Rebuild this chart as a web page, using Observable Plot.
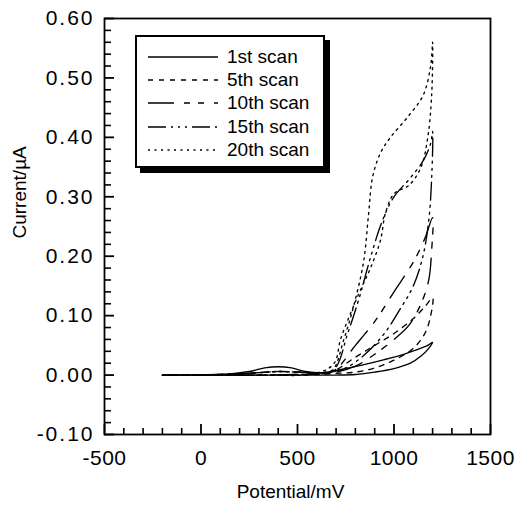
<!DOCTYPE html>
<html><head><meta charset="utf-8">
<script src="https://cdn.jsdelivr.net/npm/d3@7"></script>
<script src="https://cdn.jsdelivr.net/npm/@observablehq/plot@0.6"></script>
<style>
body{margin:0;background:#fff;}
#wrap{position:relative;width:522px;height:513px;font-family:"Liberation Sans",Arial,Helvetica,sans-serif;}
#legend{position:absolute;left:135px;top:35px;width:186px;height:129px;border:2px solid #000;box-shadow:5px 5px 0 #000;background:#fff;}
.row{position:absolute;left:11px;height:20px;display:flex;align-items:center;}
.row span{margin-left:9px;font-size:19px;color:#000;white-space:nowrap;}
svg g[aria-label="y-axis tick label"] text{letter-spacing:2px;}
svg g[aria-label="x-axis tick label"] text{letter-spacing:0.5px;}
</style>
</head><body>
<div id="wrap"></div>
<script>
// ---- data ----
const scanNames = ["1st scan","5th scan","10th scan","15th scan","20th scan"];
const xLabel = "Potential/mV";
const yLabel = "Current/µA";
const xMajor = [-500,0,500,1000,1500];
const xMinor = [-400,-300,-200,-100,100,200,300,400,600,700,800,900,1100,1200,1300,1400];
const yMajor = [-0.1,0,0.1,0.2,0.3,0.4,0.5,0.6];
const yMinor = [-0.08,-0.06,-0.04,-0.02,0.02,0.04,0.06,0.08,0.12,0.14,0.16,0.18,0.22,0.24,0.26,0.28,0.32,0.34,0.36,0.38,0.42,0.44,0.46,0.48,0.52,0.54,0.56,0.58];

const scan1E = [-200,0,150,250,330,400,470,540,600,660,750,850,950,1050,1120,1170,1200,1180,1140,1085,1000,900,800,700,600,450,300,100,-200];
const scan1I = [0,0,0.002,0.006,0.012,0.014,0.012,0.006,0.004,0.005,0.011,0.018,0.026,0.035,0.043,0.049,0.055,0.045,0.032,0.02,0.011,0.005,0.001,0,0,0,0,0,0];
const scan5E = [-200,100,300,400,500,600,680,800,900,1000,1100,1160,1200,1190,1160,1100,1000,900,800,700,600,300,-200];
const scan5I = [0,0.001,0.004,0.006,0.005,0.004,0.006,0.03,0.05,0.07,0.095,0.115,0.13,0.1,0.07,0.045,0.025,0.012,0.005,0.003,0.001,0,0];
const scan10E = [-200,100,300,400,500,600,690,800,900,1000,1100,1160,1200,1195,1180,1140,1080,1000,900,800,700,600,300,-200];
const scan10I = [0,0.001,0.004,0.006,0.005,0.004,0.008,0.05,0.09,0.14,0.19,0.23,0.265,0.21,0.16,0.12,0.085,0.06,0.035,0.015,0.005,0.002,0,0];
const scan15E = [-200,100,300,400,500,600,690,760,820,880,940,1000,1080,1150,1190,1200,1195,1180,1150,1100,1030,950,850,750,650,300,-200];
const scan15I = [0,0.001,0.004,0.006,0.005,0.004,0.01,0.07,0.13,0.2,0.26,0.3,0.33,0.36,0.39,0.41,0.33,0.26,0.2,0.15,0.11,0.07,0.035,0.012,0.004,0,0];
const scan20E = [-200,100,300,400,500,600,680,740,790,842,868,889,930,982,1070,1150,1190,1200,1195,1175,1140,1080,1000,956,930,878,826,775,723,690,600,300,-200];
const scan20I = [0,0.001,0.004,0.006,0.005,0.004,0.008,0.06,0.115,0.19,0.27,0.333,0.374,0.4,0.434,0.47,0.52,0.56,0.47,0.4,0.35,0.32,0.305,0.273,0.227,0.18,0.143,0.104,0.06,0.02,0.003,0,0];

// ---- styles ----
const dashes = [null, "5,6", "26,10,6,8,6,10", "18,5,2,5,2,5,2,5", "2,4.5"];
const W = 522, H = 513, ML = 104, MR = 32, MT = 18, MB = 79;
const FW = W - ML - MR, FH = H - MT - MB;

const series = [[scan1E,scan1I],[scan5E,scan5I],[scan10E,scan10I],[scan15E,scan15I],[scan20E,scan20I]]
  .map(([E,I]) => E.map((e,i) => ({E:e, I:I[i]})));

const chart = Plot.plot({
  width:W, height:H,
  marginLeft:ML, marginRight:MR, marginTop:MT, marginBottom:MB,
  style:{fontFamily:"'Liberation Sans', Arial, Helvetica, sans-serif", fontSize:"21px", color:"black", background:"white", overflow:"visible"},
  x:{domain:[-500,1500]},
  y:{domain:[-0.1,0.6]},
  marks:[
    ...series.map((d,k) => Plot.line(d, {x:"E", y:"I", curve:"catmull-rom", stroke:"black", strokeWidth:1.35, strokeDasharray: dashes[k]})),
    // tick labels
    Plot.axisY(yMajor, {tickSize:0, tickPadding:10, tickFormat:d=>d.toFixed(2), label:null}),
    Plot.axisX(xMajor, {tickSize:0, tickPadding:16, tickFormat:d=>String(d), label:null}),
    // axis titles
    Plot.text([xLabel], {text:d=>d, frameAnchor:"bottom", dx:-7, dy:63, fontSize:19}),
    Plot.text([yLabel], {text:d=>d, frameAnchor:"left", dx:-85, dy:12, rotate:-90, fontSize:19}),
    Plot.frame({stroke:"black", strokeWidth:1.8}),
    // inward ticks
    Plot.tickY(yMinor, {y:d=>d, insetRight:FW-7, stroke:"black", strokeWidth:1.6}),
    Plot.tickY(yMajor, {y:d=>d, insetRight:FW-10, stroke:"black", strokeWidth:1.8}),
    Plot.tickX(xMinor, {x:d=>d, insetTop:FH-6, stroke:"black", strokeWidth:1.6}),
    Plot.tickX(xMajor, {x:d=>d, insetTop:FH-10, stroke:"black", strokeWidth:1.8})
  ]
});
const wrap = document.getElementById("wrap");
wrap.appendChild(chart);

const leg = document.createElement("div");
leg.id = "legend";
scanNames.forEach((name,k) => {
  const row = document.createElement("div");
  row.className = "row";
  row.style.top = (10 + k*23.2) + "px";
  const s = d3.create("svg").attr("width",70).attr("height",10);
  s.append("line").attr("x1",0).attr("x2",70).attr("y1",5).attr("y2",5)
    .attr("stroke","black").attr("stroke-width",1.4)
    .attr("stroke-dasharray", dashes[k]);
  row.appendChild(s.node());
  const t = document.createElement("span");
  t.textContent = name;
  row.appendChild(t);
  leg.appendChild(row);
});
wrap.appendChild(leg);
</script>
</body></html>
